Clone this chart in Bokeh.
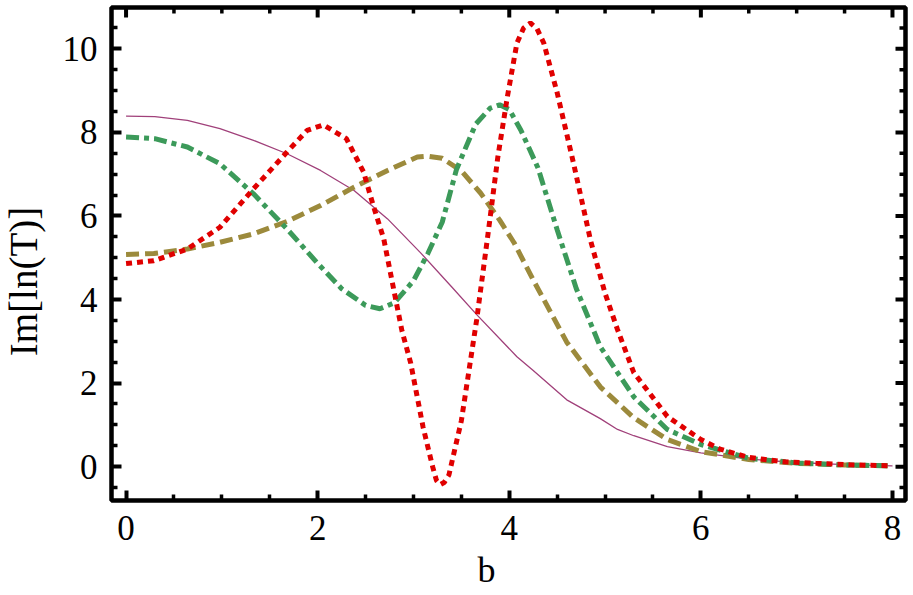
import math
from bokeh.plotting import figure
from bokeh.models import Range1d, FixedTicker, LinearAxis, Label, Title
from bokeh.layouts import row
from bokeh.embed import file_html
from bokeh.resources import INLINE

# ---- data ----
purple_x = [0, 0.3, 0.64, 0.98, 1.33, 1.68, 2.03, 2.38, 2.73, 3.07, 3.4, 3.66, 4.08, 4.25, 4.6, 4.95, 5.13, 5.3, 5.65, 6.0, 6.5, 7.0, 7.5, 8.0]
purple_y = [8.39, 8.38, 8.29, 8.09, 7.81, 7.49, 7.09, 6.61, 5.93, 5.13, 4.30, 3.64, 2.63, 2.30, 1.60, 1.15, 0.89, 0.74, 0.48, 0.33, 0.18, 0.10, 0.05, 0.02]

olive_x = [0, 0.29, 0.64, 0.98, 1.33, 1.68, 2.03, 2.38, 2.73, 3.04, 3.15, 3.3, 3.5, 3.7, 3.9, 4.05, 4.25, 4.6, 4.95, 5.3, 5.65, 6.0, 6.5, 7.0, 7.5, 8.0]
olive_y = [5.08, 5.10, 5.21, 5.37, 5.57, 5.87, 6.25, 6.69, 7.09, 7.41, 7.43, 7.38, 7.08, 6.55, 5.90, 5.36, 4.47, 2.98, 1.91, 1.17, 0.65, 0.36, 0.17, 0.08, 0.04, 0.02]

green_x = [0, 0.3, 0.64, 0.98, 1.33, 1.68, 1.99, 2.25, 2.5, 2.65, 2.8, 3.0, 3.15, 3.3, 3.45, 3.65, 3.8, 3.9, 4.0, 4.12, 4.3, 4.5, 4.7, 4.95, 5.3, 5.65, 6.0, 6.5, 7.0, 7.5, 8.0]
green_y = [7.89, 7.85, 7.65, 7.25, 6.53, 5.69, 4.89, 4.26, 3.86, 3.78, 3.92, 4.45, 5.10, 5.85, 7.12, 8.20, 8.58, 8.66, 8.55, 8.06, 7.15, 5.67, 4.26, 2.87, 1.67, 0.89, 0.53, 0.20, 0.09, 0.04, 0.02]

red_x = [0, 0.29, 0.64, 0.98, 1.33, 1.68, 1.89, 2.06, 2.3, 2.48, 2.58, 2.69, 2.78, 2.88, 2.97, 3.1, 3.2, 3.24, 3.28, 3.32, 3.37, 3.5, 3.66, 3.78, 3.88, 3.98, 4.08, 4.15, 4.22, 4.29, 4.36, 4.5, 4.67, 4.85, 5.0, 5.13, 5.3, 5.65, 6.0, 6.2, 6.5, 6.85, 7.2, 7.6, 8.0]
red_y = [4.86, 4.93, 5.21, 5.73, 6.65, 7.53, 8.05, 8.18, 7.85, 7.05, 6.25, 5.45, 4.40, 3.25, 2.49, 0.95, 0.00, -0.33, -0.43, -0.38, -0.20, 1.10, 3.52, 5.60, 7.40, 8.85, 10.14, 10.50, 10.62, 10.48, 10.14, 8.95, 7.27, 5.40, 4.15, 3.28, 2.25, 1.20, 0.65, 0.42, 0.22, 0.12, 0.08, 0.04, 0.02]

x_major = [0, 2, 4, 6, 8]
x_minor = [0.5, 1, 1.5, 2.5, 3, 3.5, 4.5, 5, 5.5, 6.5, 7, 7.5]
y_major = [0, 2, 4, 6, 8, 10]
y_minor = [-0.5, 0.5, 1, 1.5, 2.5, 3, 3.5, 4.5, 5, 5.5, 6.5, 7, 7.5, 8.5, 9, 9.5, 10.5]

x_label = "b"
y_label = "Im[ln(T)]"

FONT = "Liberation Serif"

# ---- layout ----
W, H = 913, 595
LEFT_W = 46          # strip for the rotated y label
X_LO, X_HI = -0.152, 8.136
Y_LO, Y_HI = -0.81, 10.99
MB_L, MB_R, MB_T, MB_B = 111 - LEFT_W, 8, 7, 95
MAJ_LEN, MIN_LEN = 10, 6

# left strip: y label (data units == page pixels measured from the bottom of the window)
lab = figure(width=LEFT_W, height=H, output_backend="svg", toolbar_location=None,
             x_range=Range1d(0, LEFT_W), y_range=Range1d(MB_B, H - MB_T),
             min_border_left=0, min_border_right=0, min_border_top=MB_T, min_border_bottom=MB_B,
             x_axis_location=None, y_axis_location=None)
lab.grid.visible = False
lab.outline_line_color = None
lab.add_layout(Label(x=22.5, y=H - 281, text=y_label, text_font=FONT, text_font_size="39px",
                     text_align="center", text_baseline="middle", angle=math.pi / 2,
                     text_color="black"))

p = figure(width=W - LEFT_W, height=H, output_backend="svg", toolbar_location=None,
           x_range=Range1d(X_LO, X_HI), y_range=Range1d(Y_LO, Y_HI),
           min_border_left=MB_L, min_border_right=MB_R, min_border_top=MB_T, min_border_bottom=MB_B,
           x_axis_location=None, y_axis_location=None)
p.grid.visible = False
p.outline_line_color = "black"
p.outline_line_width = 4.5

def style_axis(ax, standoff):
    ax.axis_line_color = None
    ax.major_tick_in = MAJ_LEN
    ax.major_tick_out = 0
    ax.minor_tick_in = MIN_LEN
    ax.minor_tick_out = 0
    ax.major_tick_line_width = 4
    ax.minor_tick_line_width = 3.5
    ax.major_tick_line_color = "black"
    ax.minor_tick_line_color = "black"
    ax.major_label_text_font = FONT
    ax.major_label_text_font_size = "35px"
    ax.major_label_text_color = "black"
    ax.major_label_standoff = standoff

xb = LinearAxis(ticker=FixedTicker(ticks=x_major, minor_ticks=x_minor))
yl = LinearAxis(ticker=FixedTicker(ticks=y_major, minor_ticks=y_minor))
style_axis(xb, 15)
style_axis(yl, 14)
p.add_layout(xb, "below")
p.add_layout(yl, "left")

# x label as a bottom title, positioned along the frame like the reference
p.add_layout(Title(text=x_label, align="left", offset=366, vertical_align="bottom", standoff=11,
                   text_font=FONT, text_font_size="36px", text_font_style="normal",
                   text_color="black"), "below")

# mirrored ticks on the top and right edges of the frame
frame_w = (W - LEFT_W) - MB_L - MB_R
frame_h = H - MB_T - MB_B
ux = (X_HI - X_LO) / frame_w
uy = (Y_HI - Y_LO) / frame_h
p.segment(x0=x_major, y0=[Y_HI] * len(x_major), x1=x_major, y1=[Y_HI - MAJ_LEN * uy] * len(x_major),
          line_color="black", line_width=4)
p.segment(x0=x_minor, y0=[Y_HI] * len(x_minor), x1=x_minor, y1=[Y_HI - MIN_LEN * uy] * len(x_minor),
          line_color="black", line_width=3.5)
p.segment(x0=[X_HI] * len(y_major), y0=y_major, x1=[X_HI - MAJ_LEN * ux] * len(y_major), y1=y_major,
          line_color="black", line_width=4)
p.segment(x0=[X_HI] * len(y_minor), y0=y_minor, x1=[X_HI - MIN_LEN * ux] * len(y_minor), y1=y_minor,
          line_color="black", line_width=3.5)

p.line(purple_x, purple_y, line_color="#A0407A", line_width=1.3)
p.line(olive_x, olive_y, line_color="#9C8A3C", line_width=5, line_dash="13 6")
p.line(green_x, green_y, line_color="#3C9A5A", line_width=5, line_dash="13 5 5 5")
p.line(red_x, red_y, line_color="#E00000", line_width=5, line_dash="6 5")

layout = row(lab, p)
open("out.html", "w").write(file_html(layout, INLINE))
